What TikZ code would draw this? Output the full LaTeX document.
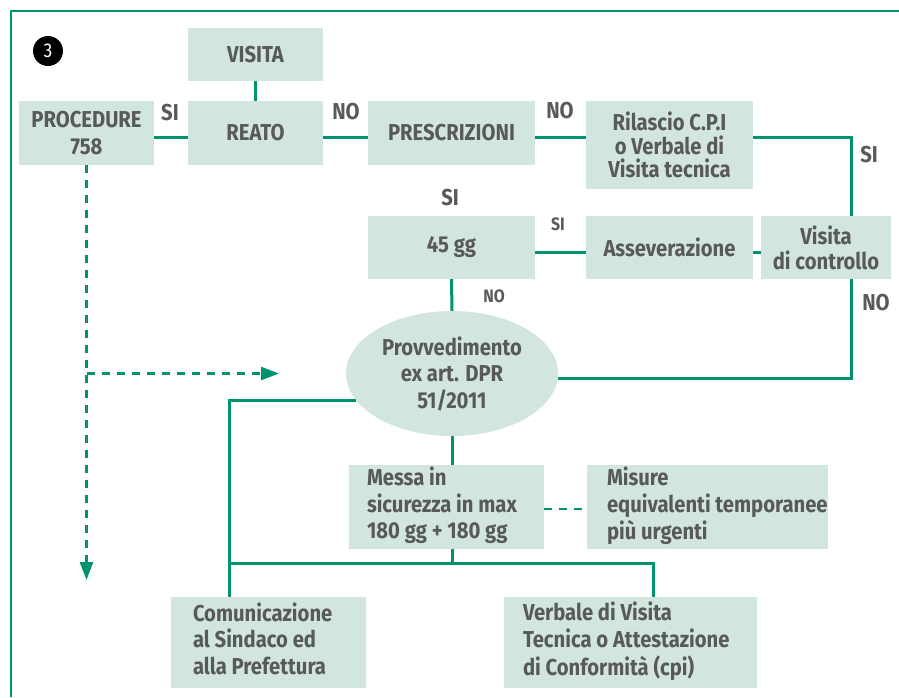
\documentclass[tikz,border=0pt]{standalone}
\usepackage{fontspec}
\setmainfont{Fira Sans}[FakeStretch=0.88]
\usetikzlibrary{arrows.meta,shapes.geometric}
\definecolor{boxfill}{HTML}{D2E6DF}
\definecolor{lgreen}{HTML}{00936F}
\definecolor{txt}{HTML}{58595B}
\newcommand\myleft[2]{\makebox[#1][l]{\begin{tabular}{@{}l@{}}#2\end{tabular}}}
\tikzset{
  box/.style={fill=boxfill, inner sep=0pt, text=txt, align=center,
    font=\fontsize{23}{26.5}\selectfont\bfseries},
  conn/.style={draw=lgreen, line width=3pt},
  dconn/.style={draw=lgreen, line width=2.5pt, dash pattern=on 8pt off 7pt},
  lab/.style={text=txt, inner sep=0pt, font=\fontsize{23}{26}\selectfont\bfseries},
  slab/.style={text=txt, inner sep=0pt, font=\fontsize{18}{20}\selectfont\bfseries},
  tip/.style={-{Triangle[length=18pt,width=13pt]}}
}
\begin{document}
\begin{tikzpicture}[x=1pt,y=-1pt]
\useasboundingbox (0,0) rectangle (899,697);
% frame
\coordinate (fbl) at (11,697);
\coordinate (ftl) at (11,11);
\coordinate (ftr) at (899,11);
\draw[draw=lgreen, line width=2.5pt] (fbl) -- (ftl) -- (ftr);
% badge
\node[circle, fill=black, minimum size=30pt, inner sep=0pt, text=white,
  font=\fontsize{20}{20}\selectfont] (badge) at (48,51) {3};
% boxes
\node[box, minimum width=135pt, minimum height=53pt] (visita) at (255.5,54.5) {VISITA};
\node[box, minimum width=135pt, minimum height=64pt] (reato) at (255.5,133) {REATO};
\node[box, minimum width=135pt, minimum height=64pt] (proc) at (86.5,133) {PROCEDURE\\758};
\node[box, minimum width=167pt, minimum height=64pt] (presc) at (451.5,133) {PRESCRIZIONI};
\node[box, minimum width=167pt, minimum height=88pt, font=\fontsize{23}{23.5}\selectfont\bfseries] (ril) at (669.5,145) {Rilascio C.P.I\\o Verbale di\\Visita tecnica};
\node[box, minimum width=167pt, minimum height=63pt] (g45) at (451.5,247.5) {45 gg};
\node[box, minimum width=167pt, minimum height=63pt] (assev) at (669.5,247.5) {Asseverazione};
\node[box, minimum width=130pt, minimum height=63pt, font=\fontsize{23}{25}\selectfont\bfseries] (vctrl) at (826,247.5) {Visita\\di controllo};
\node[box, ellipse, minimum width=212pt, minimum height=125pt] (ell) at (452,373.5) {Provvedimento\\ex art. DPR\\51/2011};
\node[box, inner xsep=18pt, minimum height=84pt] (messa) at (446.5,507) {\myleft{159pt}{Messa in\\sicurezza in max\\180 gg + 180 gg}};
\node[box, inner xsep=20pt, minimum height=84pt] (misure) at (707.5,507) {\myleft{201pt}{Misure\\equivalenti temporanee\\più urgenti}};
\node[box, inner xsep=22pt, minimum height=91pt] (comun) at (268.5,642.5) {\myleft{151pt}{Comunicazione\\al Sindaco ed\\alla Prefettura}};
\node[box, inner xsep=19pt, minimum height=91pt] (verb) at (630.5,642.5) {\myleft{215pt}{Verbale di Visita\\Tecnica o Attestazione\\di Conformità (cpi)}};
% helper coordinates
\coordinate (djoin) at (proc.south |- ell.center);
\coordinate (dtip) at (279,373.5);
\coordinate (dend) at (86.5,580);
\coordinate (comL) at ([xshift=-39.5pt]comun.north);
\coordinate (busL) at (229,563);
\coordinate (busR) at (653,563);
% connectors
\draw[conn] (visita.south) -- (reato.north);
\draw[conn] ([yshift=-4pt]proc.east) -- ([yshift=-4pt]reato.west);
\draw[conn] ([yshift=-4pt]reato.east) -- ([yshift=-4pt]presc.west);
\draw[conn] ([yshift=-4pt]presc.east) -- ([yshift=-4pt]presc.east -| ril.west);
\draw[conn] ([yshift=-4pt]presc.east -| ril.east) -| ([xshift=25pt]vctrl.north);
\draw[conn] ([yshift=-4.5pt]g45.east) -- ([yshift=-4.5pt]assev.west);
\draw[conn] ([yshift=-4.5pt]assev.east) -- ([yshift=-4.5pt]vctrl.west);
\draw[conn] (g45.south) -- (ell.north);
\draw[conn] ([xshift=25pt]vctrl.south) |- ([yshift=-5pt]ell.east);
\draw[conn] (ell.196) -| (comL);
\draw[conn] (ell.south) -- (ell.south |- messa.north);
\draw[conn] (ell.south |- messa.south) -- (ell.south |- busL);
\draw[conn] (busL) -- (busR) -- (busR |- verb.north);
\draw[dconn] ([yshift=-2pt]messa.east) -- ([yshift=-2pt]misure.west);
\draw[dconn, tip] (proc.south) -- (dend);
\draw[dconn, tip] (djoin) -- (dtip);
% labels
\node[lab] (l1) at (170,113) {SI};
\node[lab] (l2) at (346,112) {NO};
\node[lab] (l3) at (560,111) {NO};
\node[lab] (l4) at (869,155) {SI};
\node[lab] (l5) at (450,198) {SI};
\node[slab] (l6) at (558,224) {SI};
\node[slab] (l7) at (494,296) {NO};
\node[lab] (l8) at (876,303) {NO};
\end{tikzpicture}
\end{document}
